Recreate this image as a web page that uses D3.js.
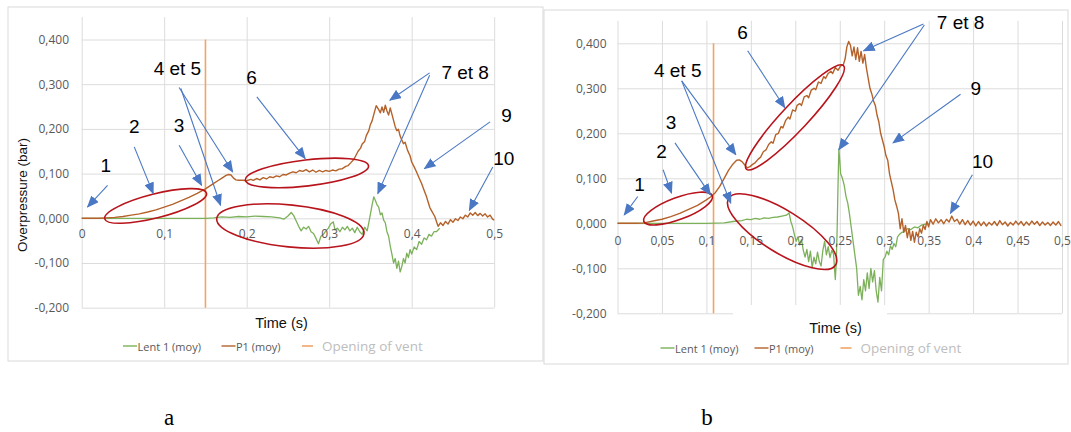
<!DOCTYPE html>
<html><head><meta charset="utf-8">
<script src="https://cdn.jsdelivr.net/npm/d3@7/dist/d3.min.js"></script>
<style>
html,body{margin:0;padding:0;background:#fff;}
svg{display:block;}
</style></head>
<body>
<svg id="chart" width="1071" height="432"></svg>
<script>
// ---------------- DATA ----------------
const yTicks = [0.4, 0.3, 0.2, 0.1, 0, -0.1, -0.2];
const yTickLabels = ["0,400","0,300","0,200","0,100","0,000","-0,100","-0,200"];
const xTicksA = [0, 0.1, 0.2, 0.3, 0.4, 0.5];
const xTickLabelsA = ["0","0,1","0,2","0,3","0,4","0,5"];
const xTicksB = [0, 0.05, 0.1, 0.15, 0.2, 0.25, 0.3, 0.35, 0.4, 0.45, 0.5];
const xTickLabelsB = ["0","0,05","0,1","0,15","0,2","0,25","0,3","0,35","0,4","0,45","0,5"];
const seriesNames = ["Lent 1 (moy)", "P1 (moy)", "Opening of vent"];
const panelLabels = ["a", "b"];
const ventA = 0.15;
const ventB = 0.108;

// Panel a : P1 (moy)  [time (s), overpressure (bar)]
const p1A = [
[0,0],[0.02,0],[0.03,0.001],[0.04,0.002],[0.05,0.004],[0.06,0.007],[0.07,0.010],[0.08,0.014],
[0.09,0.019],[0.10,0.025],[0.11,0.031],[0.12,0.039],[0.13,0.047],[0.14,0.056],[0.15,0.066],
[0.16,0.078],[0.165,0.084],[0.17,0.090],[0.175,0.096],[0.178,0.098],[0.181,0.097],[0.184,0.090],
[0.187,0.086],[0.190,0.085],[0.195,0.085],[0.200,0.084],[0.205,0.087],[0.208,0.085],[0.212,0.089],
[0.216,0.086],[0.220,0.091],[0.224,0.088],[0.228,0.093],[0.232,0.091],[0.236,0.095],[0.240,0.093],
[0.244,0.098],[0.248,0.097],[0.252,0.101],[0.256,0.104],[0.260,0.102],[0.264,0.107],[0.268,0.105],
[0.272,0.109],[0.276,0.104],[0.280,0.108],[0.284,0.103],[0.288,0.107],[0.292,0.104],[0.296,0.107],
[0.300,0.105],[0.304,0.108],[0.308,0.106],[0.312,0.110],[0.316,0.111],[0.320,0.116],[0.323,0.118],
[0.326,0.124],[0.330,0.132],[0.335,0.150],[0.338,0.157],[0.340,0.166],[0.343,0.172],[0.345,0.185],
[0.348,0.196],[0.350,0.210],[0.352,0.218],[0.354,0.232],[0.357,0.252],[0.360,0.243],[0.362,0.236],
[0.364,0.249],[0.366,0.237],[0.368,0.253],[0.370,0.240],[0.372,0.231],[0.374,0.247],[0.376,0.233],
[0.378,0.219],[0.380,0.205],[0.382,0.196],[0.384,0.199],[0.386,0.184],[0.388,0.175],[0.390,0.167],
[0.392,0.170],[0.395,0.152],[0.398,0.140],[0.400,0.126],[0.403,0.115],[0.406,0.103],[0.409,0.090],
[0.412,0.078],[0.415,0.063],[0.418,0.048],[0.420,0.036],[0.422,0.024],[0.425,0.014],[0.428,0.004],
[0.430,-0.007],[0.432,-0.018],[0.435,-0.010],[0.438,-0.016],[0.441,-0.007],[0.444,-0.013],
[0.447,-0.003],[0.450,-0.009],[0.453,-0.001],[0.456,-0.005],[0.459,0.003],[0.462,-0.001],[0.465,0.007],
[0.468,0.003],[0.471,0.012],[0.474,0.007],[0.477,0.013],[0.480,0.006],[0.483,0.011],[0.486,0.005],
[0.489,0.010],[0.492,0.003],[0.495,0.007],[0.498,-0.002],[0.500,-0.004]
];
// Panel a : Lent 1 (moy)
const lentA = [
[0,0],[0.15,0],[0.16,0.001],[0.17,0.003],[0.18,0.002],[0.19,0.004],[0.20,0.003],[0.21,0.005],
[0.22,0.004],[0.23,0.003],[0.24,0.001],[0.245,-0.002],[0.25,0.005],[0.254,0.013],[0.257,0.006],
[0.260,-0.006],[0.263,-0.018],[0.266,-0.028],[0.269,-0.020],[0.272,-0.024],[0.275,-0.018],[0.278,-0.030],
[0.281,-0.034],[0.284,-0.045],[0.287,-0.057],[0.290,-0.040],[0.293,-0.036],[0.296,-0.028],[0.299,-0.022],
[0.302,-0.012],[0.305,-0.008],[0.307,-0.026],[0.310,-0.022],[0.313,-0.030],[0.316,-0.020],[0.319,-0.026],
[0.322,-0.018],[0.325,-0.028],[0.328,-0.022],[0.331,-0.032],[0.334,-0.020],[0.337,-0.030],[0.340,-0.036],
[0.343,-0.020],[0.346,-0.028],[0.348,-0.010],[0.350,0.010],[0.352,0.030],[0.354,0.048],[0.356,0.040],
[0.358,0.030],[0.360,0.025],[0.362,0.008],[0.364,0.012],[0.366,-0.004],[0.368,-0.010],[0.370,-0.030],
[0.372,-0.040],[0.374,-0.062],[0.376,-0.080],[0.378,-0.100],[0.380,-0.090],[0.382,-0.112],[0.384,-0.096],
[0.386,-0.120],[0.388,-0.108],[0.390,-0.090],[0.392,-0.100],[0.394,-0.078],[0.396,-0.088],[0.398,-0.070],
[0.400,-0.080],[0.403,-0.064],[0.406,-0.070],[0.409,-0.052],[0.412,-0.058],[0.415,-0.044],[0.418,-0.048],
[0.421,-0.036],[0.424,-0.040],[0.427,-0.030],[0.430,-0.030],[0.434,-0.022]
];
// Panel b : P1 (moy)
const p1B = [
[0,0],[0.02,0],[0.03,0.001],[0.04,0.005],[0.05,0.009],[0.06,0.015],[0.07,0.022],[0.08,0.031],
[0.09,0.040],[0.10,0.052],[0.105,0.059],[0.11,0.068],[0.115,0.082],[0.12,0.100],[0.125,0.118],
[0.13,0.132],[0.134,0.140],[0.137,0.141],[0.140,0.137],[0.143,0.130],[0.146,0.123],[0.149,0.126],
[0.152,0.131],[0.155,0.135],[0.158,0.142],[0.161,0.147],[0.164,0.159],[0.167,0.163],[0.170,0.175],
[0.173,0.181],[0.175,0.178],[0.178,0.197],[0.181,0.200],[0.184,0.215],[0.186,0.212],[0.189,0.228],
[0.192,0.236],[0.194,0.232],[0.197,0.252],[0.200,0.249],[0.202,0.262],[0.205,0.266],[0.207,0.262],
[0.210,0.281],[0.213,0.284],[0.215,0.279],[0.218,0.296],[0.221,0.300],[0.223,0.297],[0.226,0.314],
[0.229,0.311],[0.232,0.326],[0.234,0.322],[0.237,0.333],[0.240,0.338],[0.242,0.333],[0.245,0.346],
[0.248,0.340],[0.251,0.350],[0.254,0.352],[0.256,0.365],[0.258,0.392],[0.260,0.404],[0.262,0.396],
[0.264,0.372],[0.266,0.392],[0.268,0.364],[0.270,0.390],[0.272,0.360],[0.274,0.382],[0.276,0.356],
[0.278,0.375],[0.280,0.345],[0.282,0.322],[0.284,0.300],[0.286,0.288],[0.288,0.272],[0.290,0.262],
[0.292,0.240],[0.294,0.225],[0.296,0.200],[0.298,0.185],[0.300,0.170],[0.302,0.150],[0.304,0.140],
[0.306,0.110],[0.308,0.092],[0.310,0.075],[0.312,0.052],[0.314,0.038],[0.316,0.022],[0.318,-0.012],
[0.320,0.010],[0.322,-0.020],[0.324,-0.005],[0.326,-0.032],[0.328,-0.012],[0.330,-0.038],[0.332,-0.018],
[0.334,-0.042],[0.336,-0.020],[0.338,-0.030],[0.340,-0.012],[0.342,-0.022],[0.344,-0.004],[0.346,-0.014],
[0.348,0.004],[0.350,-0.008],[0.352,0.008],[0.355,-0.002],[0.358,0.010],[0.361,0.001],[0.364,0.008],
[0.367,-0.001],[0.370,0.009],[0.373,0.003],[0.376,0.016],[0.379,0.004],[0.382,0.009],[0.385,-0.002],
[0.388,0.008],[0.391,-0.003],[0.394,0.006],[0.397,-0.004],[0.400,0.005],[0.403,-0.006],[0.406,0.004],
[0.409,-0.005],[0.412,0.003],[0.415,-0.006],[0.418,0.002],[0.421,-0.004],[0.424,0.004],[0.427,-0.005],
[0.430,0.006],[0.433,-0.003],[0.436,0.003],[0.439,-0.006],[0.442,0.002],[0.445,-0.004],[0.448,0.005],
[0.451,-0.003],[0.454,0.004],[0.457,-0.005],[0.460,0.003],[0.463,-0.004],[0.466,0.005],[0.469,-0.002],
[0.472,0.004],[0.475,-0.005],[0.478,0.003],[0.481,-0.004],[0.484,0.002],[0.487,-0.005],[0.490,0.003],
[0.493,-0.004],[0.496,0.004],[0.499,-0.006]
];
// Panel b : Lent 1 (moy)
const lentB = [
[0,0],[0.10,0],[0.12,0.001],[0.13,0.004],[0.14,0.006],[0.145,0.009],[0.15,0.008],[0.155,0.011],
[0.16,0.009],[0.165,0.012],[0.17,0.011],[0.175,0.013],[0.18,0.014],[0.185,0.016],[0.19,0.018],
[0.193,0.023],[0.195,0.004],[0.197,-0.008],[0.199,-0.025],[0.201,-0.040],[0.203,-0.030],[0.205,-0.048],
[0.207,-0.036],[0.209,-0.060],[0.211,-0.075],[0.213,-0.058],[0.215,-0.085],[0.217,-0.062],[0.219,-0.098],
[0.221,-0.075],[0.223,-0.090],[0.225,-0.064],[0.227,-0.085],[0.229,-0.095],[0.231,-0.060],[0.233,-0.040],
[0.235,-0.070],[0.237,-0.052],[0.239,-0.076],[0.241,-0.060],[0.243,-0.068],[0.245,-0.125],[0.246,-0.090],
[0.247,-0.020],[0.248,0.080],[0.249,0.165],[0.250,0.140],[0.251,0.110],[0.253,0.100],[0.255,0.085],
[0.257,0.060],[0.259,0.045],[0.261,0.020],[0.263,-0.010],[0.265,-0.040],[0.267,-0.070],[0.269,-0.100],
[0.271,-0.160],[0.273,-0.140],[0.275,-0.170],[0.277,-0.125],[0.279,-0.150],[0.281,-0.110],[0.283,-0.145],
[0.285,-0.100],[0.287,-0.130],[0.289,-0.105],[0.291,-0.150],[0.293,-0.175],[0.295,-0.120],[0.297,-0.150],
[0.299,-0.080],[0.301,-0.075],[0.303,-0.062],[0.305,-0.070],[0.307,-0.050],[0.309,-0.058],[0.311,-0.045],
[0.313,-0.052],[0.315,-0.030],[0.317,-0.025],[0.320,-0.020],[0.323,-0.018],[0.326,-0.012],[0.330,-0.014],
[0.334,-0.008],[0.338,-0.010],[0.342,-0.004],[0.346,-0.002],[0.350,0]
];
// annotation labels and arrow anchor points (data units: time, bar)
const annotA = [
 {label:"1", at:[0.0293,0.1172], arrows:[[[0.0314,0.0739],[0.0071,0.0254]]]},
 {label:"2", at:[0.0637,0.2045], arrows:[[[0.0637,0.1597],[0.0867,0.0552]]]},
 {label:"3", at:[0.1181,0.2082], arrows:[[[0.1181,0.1634],[0.1453,0.0739]]]},
 {label:"4 et 5", at:[0.116,0.3351], arrows:[[[0.1181,0.2925],[0.183,0.1037]],[[0.1202,0.2903],[0.1683,0.0291]]]},
 {label:"6", at:[0.206,0.3149], arrows:[[[0.2123,0.2716],[0.2709,0.1336]]]},
 {label:"7 et 8", at:[0.4648,0.3254], arrows:[[[0.4217,0.3254],[0.3735,0.2642]],[[0.4217,0.3201],[0.3589,0.0552]]]},
 {label:"9", at:[0.5151,0.2291], arrows:[[[0.495,0.2157],[0.4154,0.1112]]]},
 {label:"10", at:[0.5117,0.1336], arrows:[[[0.4983,0.1149],[0.4698,0.0179]]]}
];
const annotB = [
 {label:"1", at:[0.0247,0.0871], arrows:[[[0.0228,0.0596],[0.0076,0.0186]]]},
 {label:"2", at:[0.0494,0.1601], arrows:[[[0.0513,0.1191],[0.0608,0.067]]]},
 {label:"3", at:[0.0601,0.2234], arrows:[[[0.0646,0.1787],[0.1046,0.0633]]]},
 {label:"4 et 5", at:[0.0677,0.3403], arrows:[[[0.0722,0.3165],[0.1331,0.1526]],[[0.0722,0.3165],[0.1274,0.0447]]]},
 {label:"6", at:[0.1407,0.4244], arrows:[[[0.1464,0.3835],[0.1882,0.2569]]]},
 {label:"7 et 8", at:[0.3859,0.4468], arrows:[[[0.3441,0.443],[0.2768,0.3835]],[[0.3452,0.4408],[0.249,0.1638]]]},
 {label:"9", at:[0.403,0.2993], arrows:[[[0.3859,0.2867],[0.3099,0.1787]]]},
 {label:"10", at:[0.4106,0.1378], arrows:[[[0.3992,0.108],[0.3745,0.0223]]]}
];
// highlighted zones (centre in data units)
const zonesA = [[0.0896,0.0276],[0.273,0.1015],[0.2529,-0.0172]];
const zonesB = [[0.0681,0.0328],[0.1996,0.2353],[0.1852,-0.0186]];

// ---------------- DRAW ----------------
const svg = d3.select("#chart");
const C = {green:"#7cb15a", brown:"#b5622a", vent:"#f0a468", grid:"#dcdcdc",
           tick:"#595959", ellipse:"#b8141c", arrow:"#4a78c4"};
const defs = svg.append("defs");
defs.append("marker").attr("id","ah").attr("markerUnits","userSpaceOnUse")
  .attr("viewBox","0 0 12 10").attr("refX",11).attr("refY",5)
  .attr("markerWidth",12).attr("markerHeight",10).attr("orient","auto")
  .append("path").attr("d","M0,0 L12,5 L0,10 Z").attr("fill",C.arrow);

function panel(o){
  const g = svg.append("g");
  g.append("rect").attr("x",o.frame[0]).attr("y",o.frame[1])
    .attr("width",o.frame[2]-o.frame[0]).attr("height",o.frame[3]-o.frame[1])
    .attr("fill","#fff").attr("stroke","#d9d9d9").attr("stroke-width",1);
  const x = d3.scaleLinear().domain([0,0.5]).range(o.xr);
  const y = d3.scaleLinear().domain([-0.2,0.45]).range(o.yr);
  g.append("g").attr("transform",`translate(${x(0)},0)`)
    .call(d3.axisLeft(y).tickValues(yTicks).tickSize(-(x(0.5)-x(0))).tickFormat(""))
    .call(s=>{s.select(".domain").remove(); s.selectAll("line").attr("stroke",C.grid);});
  g.append("g").attr("transform",`translate(0,${y(-0.2)})`)
    .call(d3.axisBottom(x).tickValues(o.xTicks).tickSize(-(y(-0.2)-y(0.45))).tickFormat(""))
    .call(s=>{s.select(".domain").remove(); s.selectAll("line").attr("stroke",C.grid);});
  g.append("g").attr("transform",`translate(${o.yLabX},0)`)
    .call(d3.axisLeft(y).tickValues(yTicks).tickSize(0).tickPadding(0)
      .tickFormat((d,i)=>yTickLabels[i]))
    .call(s=>{s.select(".domain").remove();
      s.selectAll("text").attr("fill",C.tick).style("font-family","'Open Sans',sans-serif").style("font-size","12px");});
  if (o.patch) {
    g.append("rect").attr("x",o.patch[0]).attr("y",o.patch[1])
      .attr("width",o.patch[2]).attr("height",o.patch[3]).attr("fill","#fff");
  }
  g.append("line").attr("x1",x(o.vent)).attr("x2",x(o.vent))
    .attr("y1",y(0.4)).attr("y2",y(-0.2)).attr("stroke",C.vent).attr("stroke-width",1.6);
  const line = d3.line().x(d=>x(d[0])).y(d=>y(d[1]));
  g.append("path").datum(o.lent).attr("d",line).attr("fill","none")
    .attr("stroke",C.green).attr("stroke-width",1.3).attr("stroke-linejoin","round");
  g.append("path").datum(o.p1).attr("d",line).attr("fill","none")
    .attr("stroke",C.brown).attr("stroke-width",1.4).attr("stroke-linejoin","round");
  g.append("g").attr("transform",`translate(0,${y(0)})`)
    .call(d3.axisBottom(x).tickValues(o.xTicks).tickSize(0).tickPadding(o.xPad)
      .tickFormat((d,i)=>o.xLabels[i]))
    .call(s=>{s.select(".domain").remove();
      s.selectAll("text").attr("fill",C.tick).style("font-family","'Open Sans',sans-serif").style("font-size","12px");});
  o.zones.forEach((z,i)=>{
    const sz = o.zoneSize[i];
    g.append("ellipse").attr("cx",0).attr("cy",0).attr("rx",sz[0]).attr("ry",sz[1])
      .attr("transform",`translate(${x(z[0])},${y(z[1])}) rotate(${sz[2]})`)
      .attr("fill","none").attr("stroke",C.ellipse).attr("stroke-width",1.6);
  });
  o.annot.forEach(a=>{
    a.arrows.forEach(ar=>{
      g.append("line").attr("x1",x(ar[0][0])).attr("y1",y(ar[0][1]))
        .attr("x2",x(ar[1][0])).attr("y2",y(ar[1][1]))
        .attr("stroke",C.arrow).attr("stroke-width",1.1).attr("marker-end","url(#ah)");
    });
    g.append("text").attr("x",x(a.at[0])).attr("y",y(a.at[1]))
      .attr("text-anchor","middle").attr("dominant-baseline","central")
      .style("font-family","'Liberation Sans',Arial,sans-serif").style("font-size","19px")
      .attr("fill","#000").text(a.label);
  });
  g.append("text").attr("x",o.timeXY[0]).attr("y",o.timeXY[1]).attr("text-anchor","middle")
    .attr("dominant-baseline","central")
    .style("font-family","'Liberation Sans',Arial,sans-serif").style("font-size","14.5px")
    .attr("fill","#111").text("Time (s)");
  if (o.yTitle) {
    g.append("text").attr("transform",`translate(${o.yTitle[0]},${o.yTitle[1]}) rotate(-90)`)
      .attr("text-anchor","middle").attr("dominant-baseline","central")
      .style("font-family","'Liberation Sans',Arial,sans-serif").style("font-size","13.5px")
      .attr("fill","#111").text("Overpressure (bar)");
  }
  const lg = g.append("g").attr("transform",`translate(0,${o.legY})`);
  const lc = [C.green, C.brown];
  [0,1].forEach(i=>{
    lg.append("line").attr("x1",o.legX[i]).attr("x2",o.legX[i]+14).attr("y1",0).attr("y2",0)
      .attr("stroke",lc[i]).attr("stroke-width",1.4);
    lg.append("text").attr("x",o.legX[i]+14.5).attr("y",0).attr("dominant-baseline","central")
      .style("font-family","'Open Sans',sans-serif").style("font-size","11px")
      .attr("fill",C.tick).text(seriesNames[i]);
  });
  lg.append("line").attr("x1",o.legX[2]).attr("x2",o.legX[2]+11).attr("y1",0).attr("y2",0)
    .attr("stroke",C.vent).attr("stroke-width",1.6);
  lg.append("text").attr("x",o.legX[2]+20).attr("y",0).attr("dominant-baseline","central")
    .style("font-family","'Open Sans',sans-serif").style("font-size","13.5px")
    .attr("fill","#bdbdbd").text(seriesNames[2]);
  svg.append("text").attr("x",o.tag[0]).attr("y",o.tag[1]).attr("text-anchor","middle")
    .style("font-family","'Liberation Serif','Times New Roman',serif").style("font-size","23px")
    .attr("fill","#000").text(o.tagText);
}

panel({frame:[8,7,543,361], xr:[81.7,494.2], yr:[307.7,17.15], xTicks:xTicksA, xLabels:xTickLabelsA,
  yLabX:69, xPad:11, vent:ventA, p1:p1A, lent:lentA, annot:annotA, zones:zonesA,
  zoneSize:[[52.5,12,-14.2],[62,13,-6.6],[74,21,5.8]],
  timeXY:[281.5,323], yTitle:[22.5,195], legY:346, legX:[123,221.5,302], tag:[169,425], tagText:panelLabels[0]});

panel({frame:[544,10,1068,364], xr:[617.5,1062], yr:[313.3,20.8], xTicks:xTicksB, xLabels:xTickLabelsB,
  yLabX:606.5, xPad:13, vent:ventB, p1:p1B, lent:lentB, annot:annotB, zones:zonesB,
  zoneSize:[[36.6,11,-20.5],[71,13,-46.9],[63,21,31.9]], patch:[733,305,154,35],
  timeXY:[835.5,328], legY:348, legX:[660.5,754.5,840.5], tag:[707,425], tagText:panelLabels[1]});
</script>
</body></html>
